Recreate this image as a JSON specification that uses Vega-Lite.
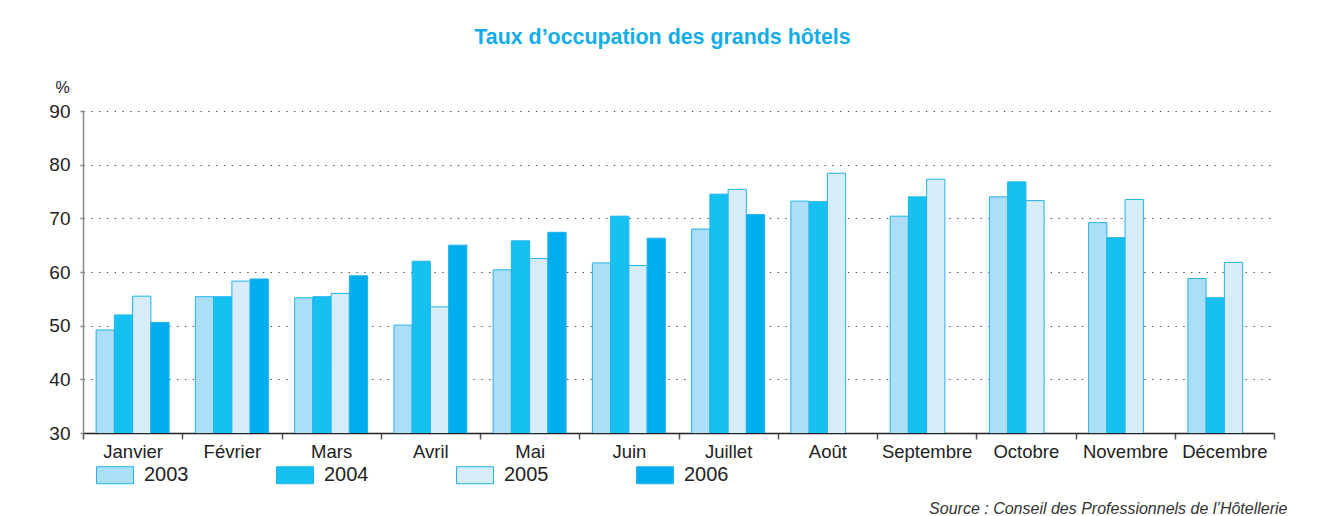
{
  "$schema": "https://vega.github.io/schema/vega-lite/v6.json",
  "autosize": {"type": "none"},
  "padding": {"left": 83, "top": 111, "right": 43, "bottom": 83},
  "width": 1191,
  "height": 322,
  "background": "white",
  "title": {
    "text": "Taux d’occupation des grands hôtels",
    "font": "Liberation Sans",
    "fontSize": 21.4,
    "fontWeight": "bold",
    "color": "#12ade6",
    "anchor": "middle",
    "dx": -16,
    "offset": 31
  },
  "data": {
    "values": [
      {"mois": "Janvier", "annee": "2003", "taux": 49.2},
      {"mois": "Janvier", "annee": "2004", "taux": 52.0},
      {"mois": "Janvier", "annee": "2005", "taux": 55.5},
      {"mois": "Janvier", "annee": "2006", "taux": 50.6},
      {"mois": "Février", "annee": "2003", "taux": 55.4},
      {"mois": "Février", "annee": "2004", "taux": 55.4},
      {"mois": "Février", "annee": "2005", "taux": 58.3},
      {"mois": "Février", "annee": "2006", "taux": 58.7},
      {"mois": "Mars", "annee": "2003", "taux": 55.2},
      {"mois": "Mars", "annee": "2004", "taux": 55.4},
      {"mois": "Mars", "annee": "2005", "taux": 56.0},
      {"mois": "Mars", "annee": "2006", "taux": 59.3},
      {"mois": "Avril", "annee": "2003", "taux": 50.1},
      {"mois": "Avril", "annee": "2004", "taux": 62.0},
      {"mois": "Avril", "annee": "2005", "taux": 53.5},
      {"mois": "Avril", "annee": "2006", "taux": 65.0},
      {"mois": "Mai", "annee": "2003", "taux": 60.4},
      {"mois": "Mai", "annee": "2004", "taux": 65.8},
      {"mois": "Mai", "annee": "2005", "taux": 62.5},
      {"mois": "Mai", "annee": "2006", "taux": 67.4},
      {"mois": "Juin", "annee": "2003", "taux": 61.7},
      {"mois": "Juin", "annee": "2004", "taux": 70.4},
      {"mois": "Juin", "annee": "2005", "taux": 61.2},
      {"mois": "Juin", "annee": "2006", "taux": 66.3},
      {"mois": "Juillet", "annee": "2003", "taux": 68.0},
      {"mois": "Juillet", "annee": "2004", "taux": 74.5},
      {"mois": "Juillet", "annee": "2005", "taux": 75.4},
      {"mois": "Juillet", "annee": "2006", "taux": 70.7},
      {"mois": "Août", "annee": "2003", "taux": 73.2},
      {"mois": "Août", "annee": "2004", "taux": 73.1},
      {"mois": "Août", "annee": "2005", "taux": 78.4},
      {"mois": "Septembre", "annee": "2003", "taux": 70.4},
      {"mois": "Septembre", "annee": "2004", "taux": 74.0},
      {"mois": "Septembre", "annee": "2005", "taux": 77.3},
      {"mois": "Octobre", "annee": "2003", "taux": 74.0},
      {"mois": "Octobre", "annee": "2004", "taux": 76.8},
      {"mois": "Octobre", "annee": "2005", "taux": 73.3},
      {"mois": "Novembre", "annee": "2003", "taux": 69.2},
      {"mois": "Novembre", "annee": "2004", "taux": 66.4},
      {"mois": "Novembre", "annee": "2005", "taux": 73.5},
      {"mois": "Décembre", "annee": "2003", "taux": 58.8},
      {"mois": "Décembre", "annee": "2004", "taux": 55.2},
      {"mois": "Décembre", "annee": "2005", "taux": 61.8}
    ]
  },
  "mark": {"type": "bar", "stroke": "#22b3ea", "strokeWidth": 1, "clip": true},
  "encoding": {
    "x": {
      "field": "mois",
      "type": "nominal",
      "sort": ["Janvier", "Février", "Mars", "Avril", "Mai", "Juin", "Juillet", "Août", "Septembre", "Octobre", "Novembre", "Décembre"],
      "scale": {"paddingInner": 0, "paddingOuter": 0},
      "axis": {
        "title": "Source : Conseil des Professionnels de l’Hôtellerie",
        "titleFont": "Liberation Sans",
        "titleFontSize": 16,
        "titleFontStyle": "italic",
        "titleFontWeight": "normal",
        "titleColor": "#333333",
        "titleAnchor": "end",
        "titleAlign": "right",
        "titleBaseline": "middle",
        "titleX": 1204,
        "titleY": 75,
        "labelAngle": 0,
        "labelFont": "Liberation Sans",
        "labelFontSize": 18.5,
        "labelColor": "#222222",
        "labelPadding": 3,
        "tickBand": "extent",
        "tickColor": "#555555",
        "tickSize": 6,
        "tickWidth": 1.5,
        "domainColor": "#222222",
        "domainWidth": 1.5,
        "grid": false
      }
    },
    "xOffset": {
      "field": "annee",
      "type": "nominal",
      "sort": ["2003", "2004", "2005", "2006"],
      "scale": {"paddingInner": 0, "paddingOuter": 0.72}
    },
    "y": {
      "field": "taux",
      "type": "quantitative",
      "scale": {"domain": [30, 90], "nice": false, "zero": false},
      "axis": {
        "values": [30, 40, 50, 60, 70, 80, 90],
        "title": "%",
        "titleAngle": 0,
        "titleFont": "Liberation Sans",
        "titleFontSize": 16,
        "titleFontWeight": "normal",
        "titleColor": "#222222",
        "titleAlign": "center",
        "titleBaseline": "middle",
        "titleX": -21,
        "titleY": -24,
        "labelFont": "Liberation Sans",
        "labelFontSize": 19,
        "labelColor": "#222222",
        "labelPadding": 10,
        "tickColor": "#888888",
        "tickSize": 3,
        "tickWidth": 1.5,
        "domainColor": "#888888",
        "domainWidth": 1.5,
        "grid": true,
        "gridColor": "#444444",
        "gridDash": [1.3, 6.5],
        "gridWidth": 1.2
      }
    },
    "fill": {
      "field": "annee",
      "type": "nominal",
      "scale": {
        "domain": ["2003", "2004", "2005", "2006"],
        "range": ["#abdff8", "#16c1f2", "#d6edf9", "#00adee"]
      },
      "legend": {
        "title": null,
        "orient": "none",
        "legendX": 13,
        "legendY": 345,
        "direction": "horizontal",
        "columns": 4,
        "columnPadding": 85,
        "symbolType": "M-1,-0.46H1V0.46H-1Z",
        "symbolSize": 1369,
        "symbolStrokeColor": "#22b3ea",
        "symbolStrokeWidth": 1,
        "symbolOpacity": 1,
        "labelFont": "Liberation Sans",
        "labelFontSize": 20,
        "labelColor": "#222222",
        "labelOffset": 10,
        "padding": 0
      }
    }
  },
  "config": {
    "view": {"stroke": null}
  }
}
